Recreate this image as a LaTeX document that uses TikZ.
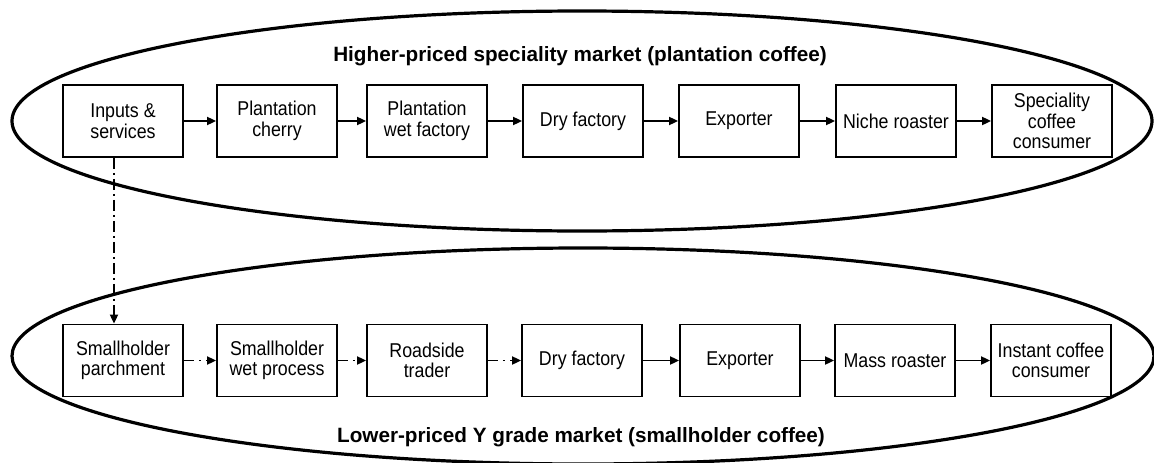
\documentclass[tikz,border=0pt]{standalone}
\usepackage{fontspec}
\setmainfont{Liberation Sans}
\newfontfamily\stagefont[FakeStretch=0.89]{Liberation Sans}
\usetikzlibrary{arrows.meta}
\begin{document}
\begin{tikzpicture}[x=1pt,y=-1pt,
  stage/.style={draw,line width=1.8pt,rectangle,minimum width=120pt,minimum height=72pt,
    inner sep=1pt,align=center,font=\stagefont\fontsize{20pt}{20.5pt}\selectfont},
  flow/.style={line width=1.8pt,-{Triangle[length=9pt,width=8pt]}},
  loose/.style={flow,dash pattern=on 10pt off 5pt on 2.5pt off 5pt},
  supply/.style={flow,dash pattern=on 11pt off 4pt on 2pt off 4pt},
  market/.style={line width=3.2pt},
  heading/.style={font=\fontsize{20.7pt}{24pt}\selectfont\bfseries,anchor=base}]
\useasboundingbox (0,0) rectangle (1154,463);

% market boundaries
\draw[market] (582,121) ellipse [x radius=570pt, y radius=110pt];
\draw[market] (583,356) ellipse [x radius=571pt, y radius=108pt];

% market names
\node[heading] (hiname) at (580,61) {Higher-priced speciality market (plantation coffee)};
\node[heading] (loname) at (581,442) {Lower-priced Y grade market (smallholder coffee)};

% plantation chain
\node[stage] (in)  at (123,121)  {Inputs \&\\services};
\node[stage] (pc)  at (277,121)  {Plantation\\cherry};
\node[stage] (pw)  at (427,121)  {Plantation\\wet factory};
\node[stage] (pd)  at (583,121)  {Dry factory};
\node[stage] (pe)  at (739,121)  {Exporter};
\node[stage] (nr)  at (896,121)  {Niche roaster};
\node[stage] (sc)  at (1052,121) {Speciality\\coffee\\consumer};

% smallholder chain
\node[stage] (sp)  at (123,360.5)  {Smallholder\\parchment};
\node[stage] (sw)  at (277,360.5)  {Smallholder\\wet process};
\node[stage] (rt)  at (427,360.5)  {Roadside\\trader};
\node[stage] (sd)  at (582,360.5)  {Dry factory};
\node[stage] (se)  at (740,360.5)  {Exporter};
\node[stage] (mr)  at (895,360.5)  {Mass roaster};
\node[stage] (ic)  at (1051,360.5) {Instant coffee\\consumer};

% flows
\draw[flow] (in) -- (pc);
\draw[flow] (pc) -- (pw);
\draw[flow] (pw) -- (pd);
\draw[flow] (pd) -- (pe);
\draw[flow] (pe) -- (nr);
\draw[flow] (nr) -- (sc);

\draw[loose] (sp) -- (sw);
\draw[loose] (sw) -- (rt);
\draw[loose] (rt) -- (sd);
\draw[flow] (sd) -- (se);
\draw[flow] (se) -- (mr);
\draw[flow] (mr) -- (ic);

\draw[supply] ([xshift=-9pt]in.south) -- ([xshift=-9pt]sp.north);
\end{tikzpicture}
\end{document}
